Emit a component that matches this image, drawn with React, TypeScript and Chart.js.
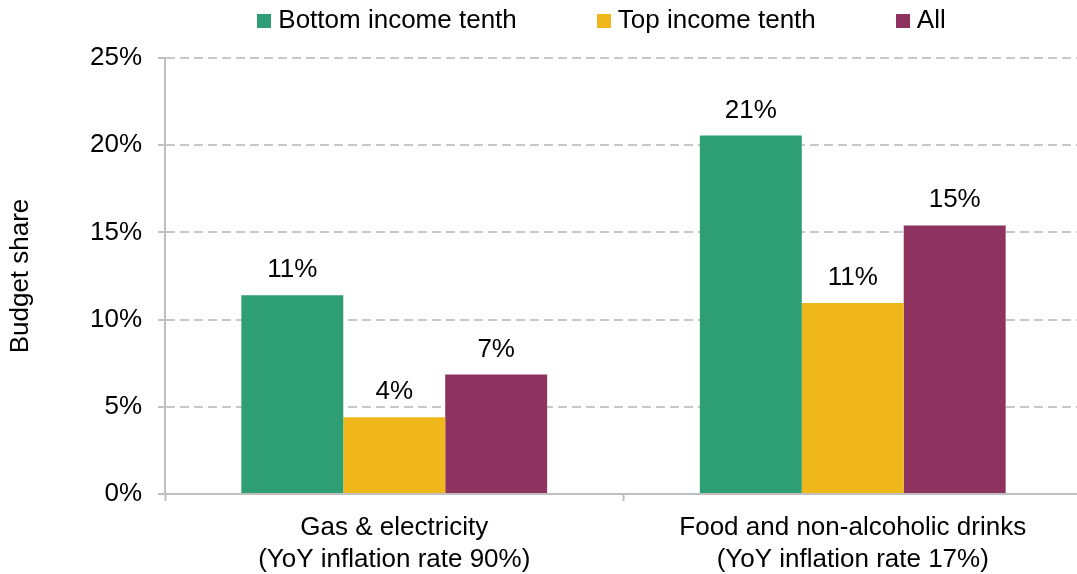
import React, { useEffect, useRef } from 'react';
import { Chart, registerables } from 'chart.js';

Chart.register(...registerables);

const FONT = '"Liberation Sans", Arial, Helvetica, sans-serif';

// ---- Data ----
const categories: string[][] = [
  ['Gas & electricity', '(YoY inflation rate 90%)'],
  ['Food and non-alcoholic drinks', '(YoY inflation rate 17%)'],
];
const seriesNames = ['Bottom income tenth', 'Top income tenth', 'All'];
const bottomIncomeTenth = [11.4, 20.55];
const topIncomeTenth = [4.4, 10.95];
const allHouseholds = [6.85, 15.4];
const yTickValues = [0, 5, 10, 15, 20, 25];
const yAxisTitle = 'Budget share';

const seriesColors = ['#2E9E74', '#F0B71B', '#8E3360'];

const dataLabelPlugin = {
  id: 'dataLabels',
  afterDatasetsDraw(chart: any) {
    const ctx = chart.ctx;
    ctx.save();
    ctx.font = `26px ${FONT}`;
    ctx.fillStyle = '#000';
    ctx.textAlign = 'center';
    ctx.textBaseline = 'alphabetic';
    chart.data.datasets.forEach((ds: any, i: number) => {
      const meta = chart.getDatasetMeta(i);
      meta.data.forEach((el: any, j: number) => {
        const v = ds.data[j] as number;
        ctx.fillText(`${Math.round(v)}%`, el.x, el.y - 18);
      });
    });
    ctx.restore();
  },
};

const legendPlugin = {
  id: 'customLegend',
  afterDraw(chart: any) {
    const ctx = chart.ctx;
    ctx.save();
    ctx.font = `26px ${FONT}`;
    const box = 14;
    const gap = 7;
    const spacing = 80;
    const items = chart.data.datasets.map((ds: any) => ({
      text: ds.label as string,
      color: ds.backgroundColor as string,
      w: ctx.measureText(ds.label).width,
    }));
    const total =
      items.reduce((s: number, it: any) => s + box + gap + it.w, 0) + spacing * (items.length - 1);
    let x = 601.5 - total / 2;
    const cy = 21;
    ctx.textAlign = 'left';
    ctx.textBaseline = 'middle';
    items.forEach((it: any) => {
      ctx.fillStyle = it.color;
      ctx.fillRect(Math.round(x), cy - box / 2, box, box);
      ctx.fillStyle = '#000';
      ctx.fillText(it.text, x + box + gap, cy);
      x += box + gap + it.w + spacing;
    });
    ctx.restore();
  },
};

export default function App() {
  const ref = useRef<HTMLCanvasElement | null>(null);

  useEffect(() => {
    if (!ref.current) return;
    const chart = new Chart(ref.current, {
      type: 'bar',
      data: {
        labels: categories,
        datasets: [
          { label: seriesNames[0], data: bottomIncomeTenth, backgroundColor: seriesColors[0] },
          { label: seriesNames[1], data: topIncomeTenth, backgroundColor: seriesColors[1] },
          { label: seriesNames[2], data: allHouseholds, backgroundColor: seriesColors[2] },
        ].map((d) => ({ ...d, borderWidth: 0, barPercentage: 1, categoryPercentage: 0.667 })),
      },
      options: {
        responsive: false,
        maintainAspectRatio: false,
        animation: false,
        layout: { padding: { top: 58, left: 0, right: 0, bottom: 0 } },
        plugins: {
          legend: { display: false },
          tooltip: { enabled: false },
        },
        scales: {
          x: {
            offset: true,
            grid: {
              display: true,
              offset: true,
              drawOnChartArea: false,
              drawTicks: true,
              tickLength: 7,
              tickColor: '#bfbfbf',
              tickWidth: 2,
            },
            border: { display: true, color: '#bfbfbf', width: 2 },
            ticks: {
              color: '#000',
              font: { family: FONT, size: 26, lineHeight: 1.23 },
              padding: 11,
              maxRotation: 0,
              minRotation: 0,
              autoSkip: false,
            },
            afterFit: (s: any) => {
              s.height = 80;
            },
          },
          y: {
            min: 0,
            max: 25,
            afterBuildTicks: (s: any) => {
              s.ticks = yTickValues.map((v) => ({ value: v }));
            },
            ticks: {
              callback: (v: any) => `${v}%`,
              color: '#000',
              font: { family: FONT, size: 26 },
              padding: 16,
            },
            grid: {
              color: '#c8c8c8',
              lineWidth: 2,
              tickLength: 7,
              tickColor: '#bfbfbf',
              tickWidth: 2,
              tickBorderDash: [],
            },
            border: { display: true, color: '#bfbfbf', width: 2, dash: [9, 5] },
            title: {
              display: true,
              text: yAxisTitle,
              color: '#000',
              font: { family: FONT, size: 26 },
              padding: { top: 5, bottom: 0 },
            },
            afterFit: (s: any) => {
              s.width = 165;
            },
          },
        },
      },
      plugins: [dataLabelPlugin, legendPlugin],
    } as any);
    return () => chart.destroy();
  }, []);

  return (
    <div
      style={{
        position: 'fixed',
        left: 0,
        top: 0,
        width: 1077,
        height: 574,
        overflow: 'hidden',
        background: '#fff',
      }}
    >
      <canvas ref={ref} width={1082} height={574} style={{ display: 'block' }} />
    </div>
  );
}
